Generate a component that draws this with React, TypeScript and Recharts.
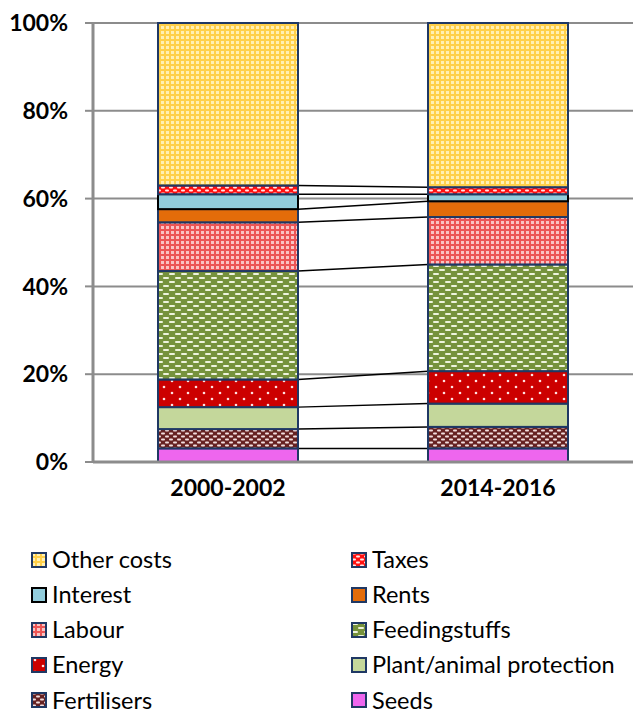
import { BarChart, Bar, XAxis, YAxis, CartesianGrid, Legend } from "recharts";

const categories = ["2000-2002", "2014-2016"];

// shares of total costs, bottom of the stack first
const seeds = [3.1, 3.1];
const fertilisers = [4.4, 4.9];
const plantProtection = [5.0, 5.3];
const energy = [6.3, 7.4];
const feedingstuffs = [24.7, 24.3];
const labour = [11.1, 10.8];
const rents = [3.0, 3.6];
const interest = [3.4, 1.6];
const taxes = [2.0, 1.6];
const otherCosts = [37.0, 37.4];

const yTicks = [0, 20, 40, 60, 80, 100];

type SeriesDef = {
  key: string;
  values: number[];
  fill: string;
  stroke: string;
};

const NAVY = "#1f3864";

const series: SeriesDef[] = [
  { key: "Seeds", values: seeds, fill: "#ee66ee", stroke: NAVY },
  { key: "Fertilisers", values: fertilisers, fill: "url(#pFert)", stroke: NAVY },
  { key: "Plant/animal protection", values: plantProtection, fill: "#c4d79b", stroke: NAVY },
  { key: "Energy", values: energy, fill: "url(#pEnergy)", stroke: NAVY },
  { key: "Feedingstuffs", values: feedingstuffs, fill: "url(#pFeed)", stroke: NAVY },
  { key: "Labour", values: labour, fill: "url(#pLabour)", stroke: NAVY },
  { key: "Rents", values: rents, fill: "#e36c0a", stroke: NAVY },
  { key: "Interest", values: interest, fill: "#92cddc", stroke: "#000000" },
  { key: "Taxes", values: taxes, fill: "url(#pTaxes)", stroke: NAVY },
  { key: "Other costs", values: otherCosts, fill: "url(#pOther)", stroke: NAVY },
];

const data = categories.map((cat, i) => {
  const row: Record<string, string | number> = { cat };
  series.forEach((s) => (row[s.key] = s.values[i]));
  return row;
});

// legend reads top of stack first, two columns
const legendOrder = [...series].reverse();

const CHART_W = 633;
const CHART_H = 713;
const Y_AXIS_W = 93;
const MARGIN = { top: 23, right: 0, bottom: 0, left: 0 };
const BAND = (CHART_W - Y_AXIS_W - MARGIN.left - MARGIN.right) / categories.length;

function cumulative(upto: number, catIdx: number) {
  let sum = 0;
  for (let k = 0; k <= upto; k++) sum += series[k].values[catIdx];
  return sum;
}

// bar segment + the Excel style series line towards the next column
function makeShape(seriesIdx: number) {
  const s = series[seriesIdx];
  return (props: any) => {
    const { x, y, width, height, index } = props;
    const rect = (
      <rect x={x} y={y} width={width} height={height} fill={s.fill} stroke={s.stroke} strokeWidth={2} />
    );
    if (index !== 0 || seriesIdx === series.length - 1) return rect;
    const pxPerUnit = height / s.values[0];
    const zeroY = y + cumulative(seriesIdx, 0) * pxPerUnit;
    const y2 = zeroY - cumulative(seriesIdx, 1) * pxPerUnit;
    return (
      <g>
        {rect}
        <line x1={x + width} y1={y} x2={x + BAND} y2={y2} stroke="#000" strokeWidth={1.5} />
      </g>
    );
  };
}

const FONT = "Lato, 'Open Sans', sans-serif";

function LegendBox({ fill, stroke }: { fill: string; stroke: string }) {
  return (
    <svg width={16} height={16} style={{ flex: "none" }}>
      <rect x={1} y={1} width={14} height={14} fill={fill} stroke={stroke} strokeWidth={2} />
    </svg>
  );
}

function CostLegend() {
  return (
    <div
      style={{
        height: 200,
        paddingTop: 29,
        boxSizing: "border-box",
        display: "grid",
        gridTemplateColumns: "320px 282px",
        gridAutoRows: "35.2px",
        paddingLeft: 31,
        fontFamily: FONT,
        fontSize: 23.5,
        lineHeight: 1,
        color: "#000",
      }}
    >
      {legendOrder.map((s) => (
        <div key={s.key} style={{ display: "flex", alignItems: "center", gap: 5, whiteSpace: "nowrap" }}>
          <LegendBox fill={s.fill} stroke={s.stroke} />
          <span>{s.key}</span>
        </div>
      ))}
    </div>
  );
}

export default function App() {
  return (
    <div style={{ position: "absolute", left: 0, top: 0, background: "#fff" }}>
      <BarChart width={CHART_W} height={CHART_H} data={data} margin={MARGIN} barSize={140}>
        <defs>
          <pattern id="pOther" width={5} height={5} patternUnits="userSpaceOnUse">
            <rect width={5} height={5} fill="#ffd04a" />
            <rect x={1} y={1} width={3} height={3} fill="#fff0b4" />
          </pattern>
          <pattern id="pLabour" width={5} height={5} patternUnits="userSpaceOnUse">
            <rect width={5} height={5} fill="#ec5656" />
            <rect x={1} y={1} width={3} height={3} fill="#f9c4c4" />
          </pattern>
          <pattern id="pFeed" width={12} height={8} patternUnits="userSpaceOnUse">
            <rect width={12} height={8} fill="#76923c" />
            <rect x={1} y={1} width={6} height={2} rx={1} fill="#eef3dd" />
            <rect x={7} y={5} width={6} height={2} rx={1} fill="#eef3dd" />
            <rect x={-5} y={5} width={6} height={2} rx={1} fill="#eef3dd" />
          </pattern>
          <pattern id="pEnergy" width={16} height={12} patternUnits="userSpaceOnUse">
            <rect width={16} height={12} fill="#cc0000" />
            <circle cx={4} cy={3} r={1.3} fill="#ffe0e0" />
            <circle cx={12} cy={9} r={1.3} fill="#ffe0e0" />
          </pattern>
          <pattern id="pFert" width={8} height={6} patternUnits="userSpaceOnUse">
            <rect width={8} height={6} fill="#662222" />
            <rect x={1} y={0.5} width={4} height={2} rx={1} fill="#f2dede" />
            <rect x={5} y={3.5} width={4} height={2} rx={1} fill="#f2dede" />
            <rect x={-3} y={3.5} width={4} height={2} rx={1} fill="#f2dede" />
          </pattern>
          <pattern id="pTaxes" width={8} height={6} patternUnits="userSpaceOnUse">
            <rect width={8} height={6} fill="#ff1010" />
            <rect x={1} y={0.5} width={4} height={2} rx={1} fill="#ffe8e8" />
            <rect x={5} y={3.5} width={4} height={2} rx={1} fill="#ffe8e8" />
            <rect x={-3} y={3.5} width={4} height={2} rx={1} fill="#ffe8e8" />
          </pattern>
        </defs>
        <CartesianGrid vertical={false} stroke="#8c8c8c" strokeWidth={2} />
        <XAxis
          dataKey="cat"
          height={51}
          tickLine={false}
          axisLine={{ stroke: "#8c8c8c", strokeWidth: 3 }}
          tick={{ fontFamily: FONT, fontSize: 23, fontWeight: 700, fill: "#000" }}
          tickMargin={12}
        />
        <YAxis
          width={Y_AXIS_W}
          domain={[0, 100]}
          ticks={yTicks}
          interval={0}
          tickFormatter={(v: number) => `${v}%`}
          axisLine={{ stroke: "#8c8c8c", strokeWidth: 3 }}
          tickLine={{ stroke: "#8c8c8c", strokeWidth: 2 }}
          tickSize={8}
          tickMargin={17}
          tick={{ fontFamily: FONT, fontSize: 23, fontWeight: 700, fill: "#000" }}
        />
        <Legend verticalAlign="bottom" content={() => <CostLegend />} />
        {series.map((s, i) => (
          <Bar
            key={s.key}
            dataKey={s.key}
            stackId="costs"
            fill={s.fill}
            stroke={s.stroke}
            shape={makeShape(i)}
            isAnimationActive={false}
          />
        ))}
      </BarChart>
    </div>
  );
}
